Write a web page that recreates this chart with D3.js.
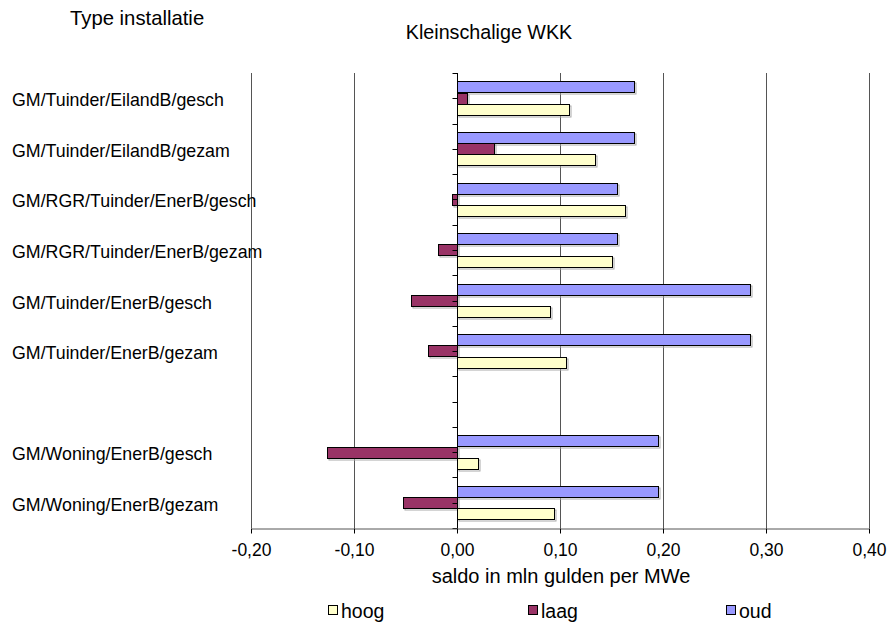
<!DOCTYPE html>
<html>
<head>
<meta charset="utf-8" />
<title>Kleinschalige WKK</title>
<script src="https://cdn.jsdelivr.net/npm/d3@7"></script>
<style>
  html, body { margin: 0; padding: 0; background: #fff; }
  svg { display: block; }
  text { font-family: "Liberation Sans", Arial, sans-serif; fill: #000; }
</style>
</head>
<body>
<svg id="chart" width="893" height="622"></svg>
<script>
// categories from top to bottom ('' = empty slot)
const categories = [
  "GM/Tuinder/EilandB/gesch",
  "GM/Tuinder/EilandB/gezam",
  "GM/RGR/Tuinder/EnerB/gesch",
  "GM/RGR/Tuinder/EnerB/gezam",
  "GM/Tuinder/EnerB/gesch",
  "GM/Tuinder/EnerB/gezam",
  "",
  "GM/Woning/EnerB/gesch",
  "GM/Woning/EnerB/gezam"
];
const oud  = [0.172, 0.172, 0.155, 0.155, 0.284, 0.284, null, 0.195, 0.195];
const laag = [0.010, 0.036, -0.005, -0.018, -0.045, -0.028, null, -0.126, -0.052];
const hoog = [0.109, 0.134, 0.163, 0.150, 0.090, 0.106, null, 0.020, 0.094];
const xTicks = [-0.2, -0.1, 0, 0.1, 0.2, 0.3, 0.4];

const series = [
  { name: "oud",  values: oud,  color: "#9999FF" },
  { name: "laag", values: laag, color: "#993366" },
  { name: "hoog", values: hoog, color: "#FFFFCC" }
];
const legendOrder = ["hoog", "laag", "oud"];

const svg = d3.select("#chart");
const mLeft = 251, mRight = 869, mTop = 73, mBottom = 528;

const x = d3.scaleLinear().domain([-0.2, 0.4]).range([mLeft, mRight]);
const y = d3.scaleBand().domain(d3.range(categories.length)).range([mTop, mBottom]);
const barH = y.bandwidth() / 4.5;   // gap width 150%
const groupOff = (y.bandwidth() - 3 * barH) / 2;

// vertical gridlines
svg.append("g")
  .selectAll("line")
  .data(xTicks)
  .join("line")
  .attr("x1", d => Math.round(x(d)) + 0.5)
  .attr("x2", d => Math.round(x(d)) + 0.5)
  .attr("y1", mTop)
  .attr("y2", mBottom)
  .attr("stroke", "#555")
  .attr("stroke-width", 1);

// bars (with a faint drop shadow)
series.forEach((s, si) => {
  const data = s.values.map((v, i) => ({ v, i })).filter(d => d.v !== null);
  const bx = d => Math.round(x(Math.min(0, d.v))) + 0.5;
  const by = d => Math.round(y(d.i) + groupOff + si * barH) + 0.5;
  const bw = d => Math.max(1, Math.round(Math.abs(x(d.v) - x(0))));
  const g = svg.append("g");
  g.selectAll("rect.sh")
    .data(data)
    .join("rect")
    .attr("class", "sh")
    .attr("x", d => bx(d) + 1.5).attr("y", d => by(d) + 1.5)
    .attr("width", bw).attr("height", Math.round(barH))
    .attr("fill", "none").attr("stroke", "#aaa");
  g.selectAll("rect.bar")
    .data(data)
    .join("rect")
    .attr("class", "bar")
    .attr("x", bx).attr("y", by)
    .attr("width", bw).attr("height", Math.round(barH))
    .attr("fill", s.color)
    .attr("stroke", "#000");
});

// category axis at zero
const x0 = Math.round(x(0)) + 0.5;
svg.append("line")
  .attr("x1", x0).attr("x2", x0).attr("y1", mTop).attr("y2", mBottom)
  .attr("stroke", "#000");
const catTicks = d3.range(categories.length * 2 + 1).map(k => mTop + k * y.bandwidth() / 2);
svg.append("g")
  .selectAll("line")
  .data(catTicks)
  .join("line")
  .attr("x1", x0 - 5).attr("x2", x0)
  .attr("y1", d => Math.round(d) + 0.5).attr("y2", d => Math.round(d) + 0.5)
  .attr("stroke", "#000");

// category labels
svg.append("g")
  .selectAll("text")
  .data(categories)
  .join("text")
  .attr("x", 12)
  .attr("y", (d, i) => y(i) + y.bandwidth() / 2 + 8)
  .attr("font-size", 17.8)
  .text(d => d);

// value axis
const xAxis = svg.append("g")
  .attr("transform", `translate(0,${mBottom + 0.5})`)
  .call(d3.axisBottom(x).tickValues(xTicks).tickSize(5).tickSizeOuter(0)
    .tickFormat(d => d3.format(".2f")(d).replace(".", ",").replace("−", "-")));
xAxis.select(".domain").attr("stroke", "#555");
xAxis.selectAll(".tick line").attr("stroke", "#000");
xAxis.selectAll(".tick text")
  .attr("font-family", "Liberation Sans, Arial, sans-serif")
  .attr("font-size", 17.5)
  .attr("y", 27.5)
  .attr("dy", 0)
  .attr("fill", "#000");

// titles
svg.append("text").attr("x", 70).attr("y", 25).attr("font-size", 20.3).text("Type installatie");
svg.append("text").attr("x", 489).attr("y", 39).attr("font-size", 19.7)
  .attr("text-anchor", "middle").text("Kleinschalige WKK");
svg.append("text").attr("x", 561).attr("y", 583).attr("font-size", 20)
  .attr("text-anchor", "middle").text("saldo in mln gulden per MWe");

// legend
const legendX = { hoog: 328, laag: 528, oud: 726 };
const lg = svg.append("g")
  .selectAll("g")
  .data(legendOrder.map(n => series.find(s => s.name === n)))
  .join("g")
  .attr("transform", d => `translate(${legendX[d.name]},0)`);
lg.append("rect")
  .attr("x", 0.5).attr("y", 605.5).attr("width", 9).attr("height", 9)
  .attr("fill", d => d.color).attr("stroke", "#000");
lg.append("text")
  .attr("x", 13).attr("y", 618).attr("font-size", 19.5)
  .text(d => d.name);
</script>
</body>
</html>
